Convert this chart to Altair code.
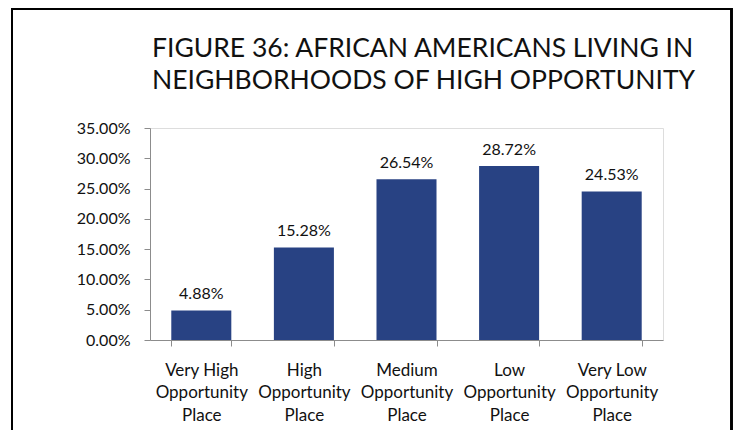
import altair as alt
import pandas as pd

categories = [
    "Very High\nOpportunity\nPlace",
    "High\nOpportunity\nPlace",
    "Medium\nOpportunity\nPlace",
    "Low\nOpportunity\nPlace",
    "Very Low\nOpportunity\nPlace",
]
values = [0.0488, 0.1528, 0.2654, 0.2872, 0.2453]
title_lines = ["FIGURE 36: AFRICAN AMERICANS LIVING IN", "NEIGHBORHOODS OF HIGH OPPORTUNITY"]
y_ticks = [0, 0.05, 0.10, 0.15, 0.20, 0.25, 0.30, 0.35]

df = pd.DataFrame({"cat": categories, "val": values})

FONT = "Lato"
BAR = "#284283"
TXT = "#111111"
AX = "#8c8c8c"

x = alt.X(
    "cat:N",
    sort=categories,
    title=None,
    scale=alt.Scale(paddingInner=0.415, paddingOuter=0.2075),
    axis=alt.Axis(
        labelExpr="split(datum.label, '\\n')",
        labelAngle=0,
        labelFont=FONT,
        labelFontSize=17,
        labelColor=TXT,
        labelLineHeight=22.5,
        labelPadding=16,
        labelBaseline="top",
        tickBand="extent",
        tickSize=6,
        tickColor=AX,
        domainColor=AX,
        labelLimit=200,
    ),
)
y = alt.Y(
    "val:Q",
    title=None,
    scale=alt.Scale(domain=[0, 0.35], nice=False),
    axis=alt.Axis(
        values=y_ticks,
        format=".2%",
        grid=False,
        labelFont=FONT,
        labelFontSize=16,
        labelColor=TXT,
        labelPadding=14,
        tickSize=6,
        tickColor=AX,
        domainColor=AX,
    ),
)

base = alt.Chart(df).encode(x=x, y=y)
bars = base.mark_bar(color=BAR)
labels = base.mark_text(
    font=FONT, fontSize=16, color=TXT, baseline="bottom", dy=-8
).encode(text=alt.Text("val:Q", format=".2%"))

frame = alt.Chart(df).mark_rect(
    fill="white", fillOpacity=0, stroke="#000000", strokeWidth=2
).encode(
    x=alt.value(-138), x2=alt.value(581.5), y=alt.value(-119), y2=alt.value(330)
)

chart = (
    alt.layer(frame, bars, labels)
    .properties(
        width=513,
        height=212,
        autosize=alt.AutoSizeParams(type="none"),
        padding={"left": 142, "top": 120, "right": 72, "bottom": 90},
        title=alt.TitleParams(
            text=title_lines,
            anchor="start",
            font=FONT,
            fontSize=26.5,
            fontWeight="normal",
            color=TXT,
            lineHeight=32,
            frame="group",
            baseline="alphabetic",
            dx=2,
            dy=137,
            offset=30,
        ),
    )
    .configure_view(strokeWidth=0)
    .configure(background="white")
)

chart.save("out.html", embed_options={"renderer": "svg", "actions": False})
